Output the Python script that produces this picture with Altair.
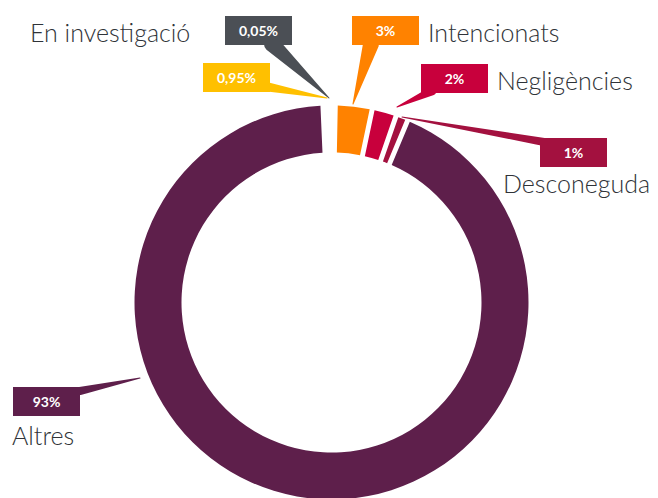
import math
import altair as alt
import pandas as pd

# ---- data ----
keys = ["inv", "inv_b", "int", "neg", "des", "alt"]
names = ["En investigació", "", "Intencionats", "Negligències", "Desconeguda", "Altres"]
values = [0.05, 0.95, 3, 2, 1, 93]
pct_text = ["0,05%", "0,95%", "3%", "2%", "1%", "93%"]
colors = ["#4b4f55", "#ffc000", "#ff8200", "#c8003c", "#a3113f", "#5e1f4b"]
ring_order = [1, 0, 2, 3, 4, 5]  # clockwise order in the ring
hidden_in_ring = ["inv", "inv_b"]  # the two tiny slices show no visible arc

# ---- annotation layout (chart pixel coordinates) ----
CX, CY = 323.5, 294.5
R_OUT, R_IN = 197, 150
START = 2 * math.pi - 0.0436
BOX_W, BOX_H = 67, 29
box_pos = {"inv": (217, 8), "inv_b": (195, 55), "int": (344, 8),
           "neg": (413, 56), "des": (532, 130), "alt": (5, 379)}
tail_geom = {"inv": (264, 36, 321, 90, 16), "inv_b": (260, 79, 319, 90, 9),
             "int": (363, 36, 345, 96, 16), "neg": (424, 83, 389, 99, 9),
             "des": (536, 134, 394, 109, 8), "alt": (72, 383, 132, 370, 8)}
label_pos = {"inv": (22, 34), "int": (420, 34), "neg": (489, 82),
             "des": (495, 185), "alt": (4, 437)}

color_scale = alt.Scale(domain=keys, range=colors)

ring_df = pd.DataFrame([
    {"key": k, "value": v, "ord": o}
    for k, v, o in zip(keys, values, ring_order)
])

ring = alt.Chart(ring_df).mark_arc(
    innerRadius=R_IN, outerRadius=R_OUT, padAngle=0.02
).encode(
    theta=alt.Theta("value:Q", stack=True,
                    scale=alt.Scale(range=[START, START + 2 * math.pi])),
    order=alt.Order("ord:Q"),
    color=alt.Color("key:N", scale=color_scale, legend=None),
    opacity=alt.condition(
        alt.FieldOneOfPredicate(field="key", oneOf=hidden_in_ring),
        alt.value(0), alt.value(1)),
    x=alt.value(CX),
    y=alt.value(CY),
)

tail_rows = []
for k in keys:
    bx, by, tx, ty, w = tail_geom[k]
    tail_rows.append({"key": k, "x": bx, "y": by, "size": w, "seq": 0})
    tail_rows.append({"key": k, "x": tx, "y": ty, "size": 0, "seq": 1})
tails = alt.Chart(pd.DataFrame(tail_rows)).mark_trail().encode(
    x=alt.X("x:Q", scale=None, axis=None),
    y=alt.Y("y:Q", scale=None, axis=None),
    size=alt.Size("size:Q", scale=None, legend=None),
    detail="key:N",
    order=alt.Order("seq:Q"),
    color=alt.Color("key:N", scale=color_scale, legend=None),
)

box_df = pd.DataFrame([
    {"key": k, "t": t, "x1": box_pos[k][0], "y1": box_pos[k][1],
     "x2": box_pos[k][0] + BOX_W, "y2": box_pos[k][1] + BOX_H,
     "xc": box_pos[k][0] + BOX_W / 2, "yc": box_pos[k][1] + BOX_H / 2 + 1}
    for k, t in zip(keys, pct_text)
])
boxes = alt.Chart(box_df).mark_rect().encode(
    x=alt.X("x1:Q", scale=None, axis=None), x2="x2:Q",
    y=alt.Y("y1:Q", scale=None, axis=None), y2="y2:Q",
    color=alt.Color("key:N", scale=color_scale, legend=None),
)
box_text = alt.Chart(box_df).mark_text(
    font="Lato", fontWeight="bold", fontSize=14, color="white",
    align="center", baseline="middle"
).encode(
    x=alt.X("xc:Q", scale=None, axis=None),
    y=alt.Y("yc:Q", scale=None, axis=None),
    text="t:N",
)

lab_df = pd.DataFrame([
    {"name": n, "x": label_pos[k][0], "y": label_pos[k][1]}
    for k, n in zip(keys, names) if n
])
labels = alt.Chart(lab_df).mark_text(
    font="Lato", fontSize=25, fontWeight=300, color="#2f3338",
    align="left", baseline="alphabetic"
).encode(
    x=alt.X("x:Q", scale=None, axis=None),
    y=alt.Y("y:Q", scale=None, axis=None),
    text="name:N",
)

chart = alt.layer(ring, tails, boxes, box_text, labels).properties(
    width=642, height=490, padding=0,
    autosize=alt.AutoSizeParams(type="none"),
).configure_view(stroke=None)

chart.save("out.html", embed_options={"renderer": "svg", "actions": False})
